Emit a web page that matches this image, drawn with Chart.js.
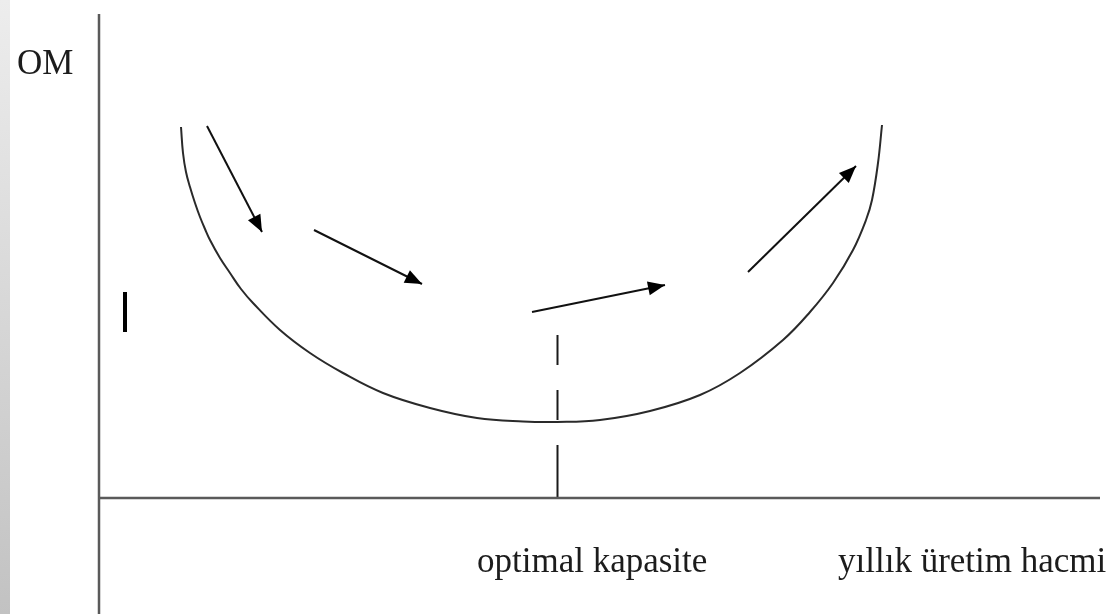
<!DOCTYPE html>
<html>
<head>
<meta charset="utf-8">
<script src="https://cdn.jsdelivr.net/npm/chart.js@4"></script>
<style>
  html, body { margin: 0; padding: 0; background: #fff; }
  #wrap { width: 1115px; height: 614px; position: relative; }
</style>
</head>
<body>
<div id="wrap"><canvas id="c"></canvas></div>
<script>
// ---- data (abstract units: x = annual production volume, y = average cost) ----
const curveX = [8.2, 8.4, 8.7, 9.1, 9.6, 10.1, 10.6, 11.1, 12.1, 13.1, 14.2, 15.4, 18.1, 21.1, 24.4, 28.4, 33.1, 37.8, 42.4, 45.8, 50.1, 55.1, 60.1, 64.1, 68.4, 71.1, 73.4, 75.4, 76.7, 77.3, 77.9, 78.3];
const curveY = [37.1, 34.5, 32.6, 31.1, 29.5, 28.1, 26.9, 25.8, 24.0, 22.5, 20.9, 19.5, 16.8, 14.5, 12.5, 10.5, 9.0, 8.0, 7.65, 7.6, 7.8, 8.7, 10.3, 12.5, 15.8, 18.6, 21.5, 24.8, 27.8, 29.8, 33.5, 37.3];

// arrows: start and end points
const arrowStartX = [10.8, 21.5, 43.3, 64.9];
const arrowStartY = [37.2, 26.8, 18.6, 22.6];
const arrowEndX   = [16.3, 32.3, 56.6, 75.7];
const arrowEndY   = [26.6, 21.4, 21.3, 33.2];

// optimal capacity (minimum of the curve)
const optimalX = 45.85;
const optimalTopY = 16.3;
const optimalDashEndY = 5.3;

// axes extents
const axisXMax = 100.1;
const axisYMax = 48.4;
const axisYMin = -11.6;

// small vertical mark
const markX = 2.6;
const markY = [20.6, 16.6];

// text labels
const textLabels = ['OM', 'optimal kapasite', 'yıllık üretim hacmi'];

function pts(xs, ys) { return xs.map((x, i) => ({ x: x, y: ys[i] })); }

const datasets = [];
// axes
datasets.push({ data: [{x: 0, y: axisYMin}, {x: 0, y: axisYMax}], borderColor: '#5a5a5a', borderWidth: 2.5 });
datasets.push({ data: [{x: 0, y: 0}, {x: axisXMax, y: 0}], borderColor: '#5a5a5a', borderWidth: 2.5 });
// curve
datasets.push({ data: pts(curveX, curveY), borderColor: '#2a2a2a', borderWidth: 2, tension: 0.4 });
// dashed optimal line
datasets.push({ data: [{x: optimalX, y: optimalTopY}, {x: optimalX, y: optimalDashEndY}], borderColor: '#1a1a1a', borderWidth: 2, borderDash: [30, 25] });
datasets.push({ data: [{x: optimalX, y: optimalDashEndY}, {x: optimalX, y: 0}], borderColor: '#1a1a1a', borderWidth: 2 });
// mark
datasets.push({ data: [{x: markX, y: markY[0]}, {x: markX, y: markY[1]}], borderColor: '#000', borderWidth: 4 });
// arrows
for (let i = 0; i < arrowStartX.length; i++) {
  datasets.push({ data: [{x: arrowStartX[i], y: arrowStartY[i]}, {x: arrowEndX[i], y: arrowEndY[i]}], borderColor: '#111', borderWidth: 2, arrow: true });
}
datasets.forEach(d => { d.showLine = true; d.pointRadius = 0; d.pointHoverRadius = 0; d.fill = false; });

const arrowPlugin = {
  id: 'arrowHeads',
  afterDatasetsDraw(chart) {
    const ctx = chart.ctx;
    chart.data.datasets.forEach((ds, i) => {
      if (!ds.arrow) return;
      const meta = chart.getDatasetMeta(i);
      const a = meta.data[0], b = meta.data[meta.data.length - 1];
      const ang = Math.atan2(b.y - a.y, b.x - a.x);
      const len = 17, half = 7;
      ctx.save();
      ctx.fillStyle = '#000';
      ctx.beginPath();
      ctx.moveTo(b.x, b.y);
      ctx.lineTo(b.x - len * Math.cos(ang) + half * Math.sin(ang), b.y - len * Math.sin(ang) - half * Math.cos(ang));
      ctx.lineTo(b.x - len * Math.cos(ang) - half * Math.sin(ang), b.y - len * Math.sin(ang) + half * Math.cos(ang));
      ctx.closePath();
      ctx.fill();
      ctx.restore();
    });
  }
};

const labelPlugin = {
  id: 'labels',
  beforeDraw(chart) {
    const ctx = chart.ctx;
    ctx.save();
    const g = ctx.createLinearGradient(0, 0, 0, chart.height);
    g.addColorStop(0, '#ededed');
    g.addColorStop(1, '#c2c2c2');
    ctx.fillStyle = g;
    ctx.fillRect(0, 0, 10, chart.height);
    ctx.restore();
  },
  afterDraw(chart, args, opts) {
    const ctx = chart.ctx;
    const xs = chart.scales.x, ys = chart.scales.y;
    ctx.save();
    ctx.fillStyle = '#1c1c1c';
    ctx.font = '35px "Liberation Serif", "Times New Roman", serif';
    ctx.textBaseline = 'alphabetic';
    ctx.textAlign = 'left';
    opts.items.forEach(it => {
      ctx.fillText(it.text, xs.getPixelForValue(it.x), ys.getPixelForValue(it.y));
    });
    ctx.restore();
  }
};

new Chart(document.getElementById('c'), {
  type: 'scatter',
  data: { datasets: datasets },
  options: {
    responsive: true,
    maintainAspectRatio: false,
    devicePixelRatio: 1,
    animation: false,
    layout: { padding: 0 },
    scales: {
      x: { type: 'linear', min: -9.9, max: 101.6, display: false },
      y: { type: 'linear', min: -11.6, max: 49.8, display: false }
    },
    plugins: {
      legend: { display: false },
      tooltip: { enabled: false },
      labels: {
        items: [
          { text: textLabels[0], x: -8.2, y: 42.4 },
          { text: textLabels[1], x: 37.8, y: -7.4 },
          { text: textLabels[2], x: 73.9, y: -7.4 }
        ]
      }
    }
  },
  plugins: [arrowPlugin, labelPlugin]
});
</script>
</body>
</html>
